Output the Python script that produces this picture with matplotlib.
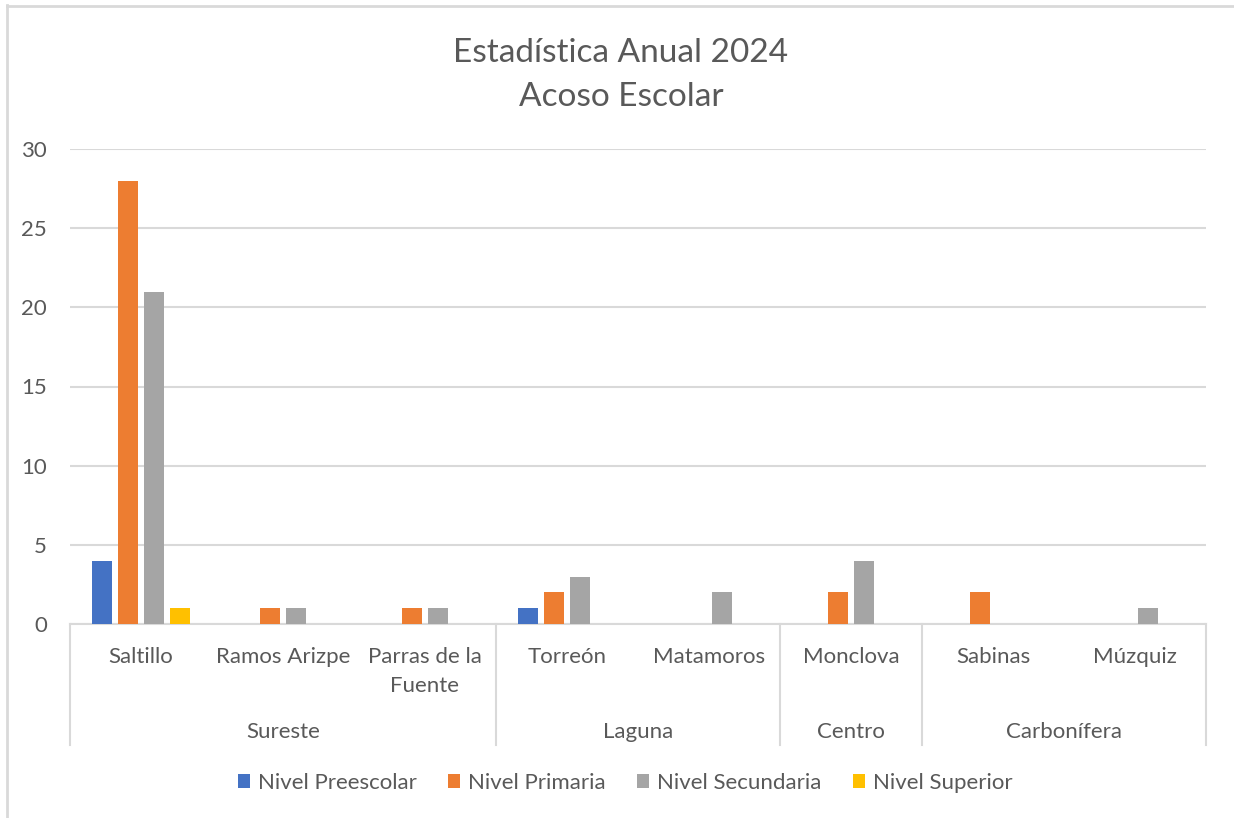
import matplotlib
matplotlib.use('Agg')
import matplotlib.pyplot as plt
import matplotlib.transforms as mtransforms
from matplotlib.patches import Patch
from matplotlib.lines import Line2D
import numpy as np

# ---------------- data ----------------
municipios = ["Saltillo", "Ramos Arizpe", "Parras de la\nFuente", "Torreón",
              "Matamoros", "Monclova", "Sabinas", "Múzquiz"]
regiones = ["Sureste", "Laguna", "Centro", "Carbonífera"]
region_sizes = [3, 2, 1, 2]
series_names = ["Nivel Preescolar", "Nivel Primaria", "Nivel Secundaria", "Nivel Superior"]
preescolar = [4, 0, 0, 1, 0, 0, 0, 0]
primaria = [28, 1, 1, 2, 0, 2, 2, 0]
secundaria = [21, 1, 1, 3, 2, 4, 0, 1]
superior = [1, 0, 0, 0, 0, 0, 0, 0]
y_ticks = [0, 5, 10, 15, 20, 25, 30]

series = [preescolar, primaria, secundaria, superior]
colors = ["#4472C4", "#ED7D31", "#A5A5A5", "#FFC000"]
text_color = "#595959"
grid_color = "#D9D9D9"
FONT = ["Lato", "DejaVu Sans"]
plt.rcParams['font.family'] = FONT
LBL = 16
TITLE = 24

W, H = 1234, 818
fig = plt.figure(figsize=(W / 100, H / 100), dpi=100)
fig.patch.set_facecolor("white")

def fy(p):
    return 1 - p / H

ax = fig.add_axes([70 / W, fy(624), (1206 - 70) / W, (624 - 149) / H])
x = np.arange(len(municipios))
ax.set_xlim(-0.5, len(municipios) - 0.5)
ax.set_ylim(0, 30)

step = 26 / 142
width = 20.5 / 142
for i, (vals, c, name) in enumerate(zip(series, colors, series_names)):
    v = np.array(vals, dtype=float)
    v[v == 0] = np.nan
    ax.bar(x + (i - 1.5) * step, v, width, color=c, label=name, zorder=3)

ax.set_yticks(y_ticks)
ax.yaxis.grid(True, color=grid_color, lw=1.5)
ax.set_axisbelow(True)
for s in ["top", "left", "right"]:
    ax.spines[s].set_visible(False)
ax.spines["bottom"].set_color(grid_color)
ax.spines["bottom"].set_linewidth(1.5)
ax.tick_params(axis="y", length=0, pad=16.5, labelsize=LBL, labelcolor=text_color)
ax.tick_params(axis="x", length=0, labelbottom=False)

trans = mtransforms.blended_transform_factory(ax.transData, fig.transFigure)
# category labels (one text per line)
for xi, lab in zip(x, municipios):
    for k, line in enumerate(lab.split("\n")):
        ax.text(xi, fy(663 + 29 * k), line, transform=trans, ha="center", va="baseline",
                fontsize=LBL, color=text_color)

# group separators and group labels
bounds = np.concatenate([[0], np.cumsum(region_sizes)]) - 0.5
for b in bounds:
    fig.add_artist(Line2D([b, b], [fy(624), fy(745)], transform=trans,
                          color=grid_color, lw=1.5))
for r, (a, b) in zip(regiones, zip(bounds[:-1], bounds[1:])):
    ax.text((a + b) / 2, fy(738), r, transform=trans,
            ha="center", va="baseline", fontsize=LBL, color=text_color)

# title
fig.text(621 / W, fy(62), "Estadística Anual 2024", ha="center", va="baseline",
         fontsize=TITLE, color=text_color)
fig.text(621 / W, fy(106), "Acoso Escolar", ha="center", va="baseline",
         fontsize=TITLE, color=text_color)

# legend
handles = [Patch(facecolor=c, edgecolor="none", label=n) for c, n in zip(colors, series_names)]
leg = fig.legend(handles=handles, loc="center", bbox_to_anchor=(625 / W, fy(783)),
                 ncol=4, frameon=False, fontsize=LBL, handlelength=0.55, handleheight=0.55,
                 handletextpad=0.36, columnspacing=1.4, borderpad=0, borderaxespad=0)
for t in leg.get_texts():
    t.set_color(text_color)

# chart border
fig.add_artist(Line2D([7 / W, 7 / W], [fy(5), 0], transform=fig.transFigure,
                      color=grid_color, lw=2))
fig.add_artist(Line2D([7 / W, 1], [fy(6), fy(6)], transform=fig.transFigure,
                      color=grid_color, lw=2))

fig.savefig("out.png", dpi=100)
